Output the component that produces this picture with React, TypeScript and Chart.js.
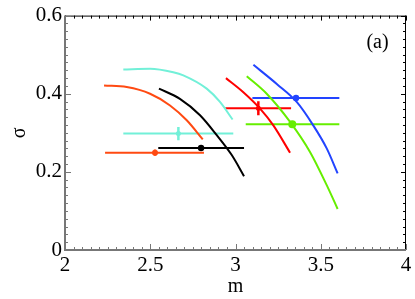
import React, { useEffect, useRef } from "react";
import { Chart, registerables } from "chart.js";

Chart.register(...registerables);

// Curves (m, sigma)
const cyanArcM = [2.342, 2.499, 2.635, 2.694, 2.831, 2.909, 2.983];
const cyanArcS = [0.462, 0.464, 0.455, 0.447, 0.413, 0.379, 0.334];
const orangeArcM = [2.229, 2.362, 2.499, 2.616, 2.714, 2.808];
const orangeArcS = [0.421, 0.417, 0.4, 0.37, 0.332, 0.283];
const blackArcM = [2.551, 2.674, 2.792, 2.89, 2.978, 3.05];
const blackArcS = [0.413, 0.387, 0.345, 0.294, 0.243, 0.189];
const redArcM = [2.944, 3.046, 3.144, 3.222, 3.32];
const redArcS = [0.44, 0.404, 0.362, 0.319, 0.249];
const blueArcM = [3.105, 3.242, 3.359, 3.456, 3.535, 3.599];
const blueArcS = [0.474, 0.425, 0.379, 0.319, 0.26, 0.196];
const greenArcM = [3.066, 3.183, 3.32, 3.437, 3.535, 3.599];
const greenArcS = [0.445, 0.4, 0.328, 0.251, 0.166, 0.105];

// Measured points: [m, sigma, mLow, mHigh, sigmaErr]
const cyanPoint = [2.665, 0.298, 2.342, 2.987, 0.017];
const orangePoint = [2.528, 0.249, 2.235, 2.815, 0.008];
const blackPoint = [2.798, 0.261, 2.547, 3.05, 0];
const redPoint = [3.134, 0.363, 2.94, 3.326, 0.018];
const bluePoint = [3.355, 0.389, 3.099, 3.609, 0];
const greenPoint = [3.333, 0.322, 3.06, 3.609, 0];

const xTicks = [2, 2.5, 3, 3.5, 4];
const yTicks = [0, 0.2, 0.4, 0.6];

const colors = {
  cyan: "#72f0d8",
  orange: "#ff4a12",
  black: "#000000",
  red: "#ff0000",
  blue: "#2244ff",
  green: "#66ee00",
};

const SERIF = "'Liberation Serif', 'Times New Roman', serif";

function arc(ms: number[], ss: number[], color: string) {
  return {
    data: ms.map((m, i) => ({ x: m, y: ss[i] })),
    showLine: true,
    borderColor: color,
    borderWidth: 2,
    pointRadius: 0,
    cubicInterpolationMode: "monotone",
    fill: false,
  };
}

function errH(p: number[], color: string) {
  return {
    data: [
      { x: p[2], y: p[1] },
      { x: p[3], y: p[1] },
    ],
    showLine: true,
    borderColor: color,
    borderWidth: 2,
    pointRadius: 0,
    fill: false,
  };
}

function errV(p: number[], color: string) {
  return {
    data: [
      { x: p[0], y: p[1] - p[4] },
      { x: p[0], y: p[1] + p[4] },
    ],
    showLine: true,
    borderColor: color,
    borderWidth: 2.5,
    pointRadius: 0,
    fill: false,
  };
}

function dot(p: number[], color: string, r: number) {
  return {
    data: [{ x: p[0], y: p[1] }],
    showLine: false,
    backgroundColor: color,
    borderColor: color,
    borderWidth: 0,
    pointRadius: r,
  };
}

const framePlugin = {
  id: "frame",
  afterDraw(chart: any) {
    const { ctx, chartArea } = chart;
    const xs = chart.scales.x;
    const ys = chart.scales.y;
    const { left, right, top, bottom } = chartArea;
    ctx.save();
    ctx.strokeStyle = "#000";
    ctx.lineWidth = 1;
    ctx.beginPath();
    ctx.moveTo(left, top + 0.5);
    ctx.lineTo(right, top + 0.5);
    ctx.moveTo(right - 0.5, top);
    ctx.lineTo(right - 0.5, bottom);
    ctx.stroke();
    ctx.beginPath();
    for (let i = 0; i <= 40; i++) {
      const v = 2 + i * 0.05;
      const px = Math.round(xs.getPixelForValue(v)) + 0.5;
      const len = i % 10 === 0 ? 5 : 3;
      ctx.moveTo(px, top);
      ctx.lineTo(px, top + len);
    }
    for (let i = 0; i <= 30; i++) {
      const v = i * 0.02;
      const py = Math.round(ys.getPixelForValue(v)) + 0.5;
      const len = i % 10 === 0 ? 5 : 3;
      ctx.moveTo(right, py);
      ctx.lineTo(right - len, py);
    }
    ctx.stroke();
    ctx.strokeStyle = "#777";
    ctx.lineWidth = 2;
    ctx.beginPath();
    ctx.moveTo(left, top);
    ctx.lineTo(left, bottom);
    ctx.lineTo(right, bottom);
    ctx.stroke();
    ctx.lineWidth = 1;
    ctx.beginPath();
    for (let i = 0; i <= 40; i++) {
      const v = 2 + i * 0.05;
      const px = Math.round(xs.getPixelForValue(v)) + 0.5;
      const len = i % 10 === 0 ? 6 : 3;
      ctx.moveTo(px, bottom);
      ctx.lineTo(px, bottom - len);
    }
    for (let i = 0; i <= 30; i++) {
      const v = i * 0.02;
      const py = Math.round(ys.getPixelForValue(v)) + 0.5;
      const len = i % 10 === 0 ? 6 : 3;
      ctx.moveTo(left, py);
      ctx.lineTo(left + len, py);
    }
    ctx.stroke();
    ctx.fillStyle = "#000";
    ctx.font = `20px ${SERIF}`;
    ctx.textAlign = "center";
    ctx.textBaseline = "alphabetic";
    ctx.fillText("m", (left + right) / 2, 292);
    ctx.fillText("(a)", 377.5, 48);
    ctx.save();
    ctx.translate(25, (top + bottom) / 2);
    ctx.rotate(-Math.PI / 2);
    ctx.fillText("σ", 0, 0);
    ctx.restore();
    ctx.restore();
  },
};

export default function App() {
  const ref = useRef<HTMLCanvasElement | null>(null);
  useEffect(() => {
    document.body.style.margin = "0";
    if (!ref.current) return;
    const chart = new Chart(ref.current, {
      type: "scatter",
      data: {
        datasets: [
          arc(cyanArcM, cyanArcS, colors.cyan),
          arc(orangeArcM, orangeArcS, colors.orange),
          arc(blackArcM, blackArcS, colors.black),
          arc(redArcM, redArcS, colors.red),
          arc(blueArcM, blueArcS, colors.blue),
          arc(greenArcM, greenArcS, colors.green),
          errH(cyanPoint, colors.cyan),
          errV(cyanPoint, colors.cyan),
          dot(cyanPoint, colors.cyan, 2.5),
          errH(orangePoint, colors.orange),
          errV(orangePoint, colors.orange),
          dot(orangePoint, colors.orange, 3),
          errH(blackPoint, colors.black),
          dot(blackPoint, colors.black, 3.2),
          errH(redPoint, colors.red),
          errV(redPoint, colors.red),
          dot(redPoint, colors.red, 2.5),
          errH(bluePoint, colors.blue),
          dot(bluePoint, colors.blue, 3.2),
          errH(greenPoint, colors.green),
          dot(greenPoint, colors.green, 4),
        ] as any,
      },
      options: {
        animation: false,
        responsive: false,
        layout: { padding: { top: 15, right: 9, left: 0, bottom: 0 } },
        plugins: { legend: { display: false }, tooltip: { enabled: false } },
        scales: {
          x: {
            type: "linear",
            min: 2,
            max: 4,
            afterFit: (s: any) => {
              s.height = 49;
            },
            afterBuildTicks: (s: any) => {
              s.ticks = xTicks.map((v) => ({ value: v }));
            },
            grid: { display: false, drawTicks: false },
            border: { display: false },
            ticks: {
              color: "#000",
              font: { family: SERIF, size: 21 },
              padding: 3,
              maxRotation: 0,
              callback: (v: any) => String(Math.round(Number(v) * 100) / 100),
            },
          },
          y: {
            type: "linear",
            min: 0,
            max: 0.6,
            afterFit: (s: any) => {
              s.width = 65;
            },
            afterBuildTicks: (s: any) => {
              s.ticks = yTicks.map((v) => ({ value: v }));
            },
            grid: { display: false, drawTicks: false },
            border: { display: false },
            ticks: {
              color: "#000",
              font: { family: SERIF, size: 21 },
              padding: 3,
              callback: (v: any) => String(Math.round(Number(v) * 100) / 100),
            },
          },
        },
      },
      plugins: [framePlugin],
    });
    return () => chart.destroy();
  }, []);
  return (
    <div style={{ width: 415, height: 299 }}>
      <canvas ref={ref} width={415} height={299} />
    </div>
  );
}
